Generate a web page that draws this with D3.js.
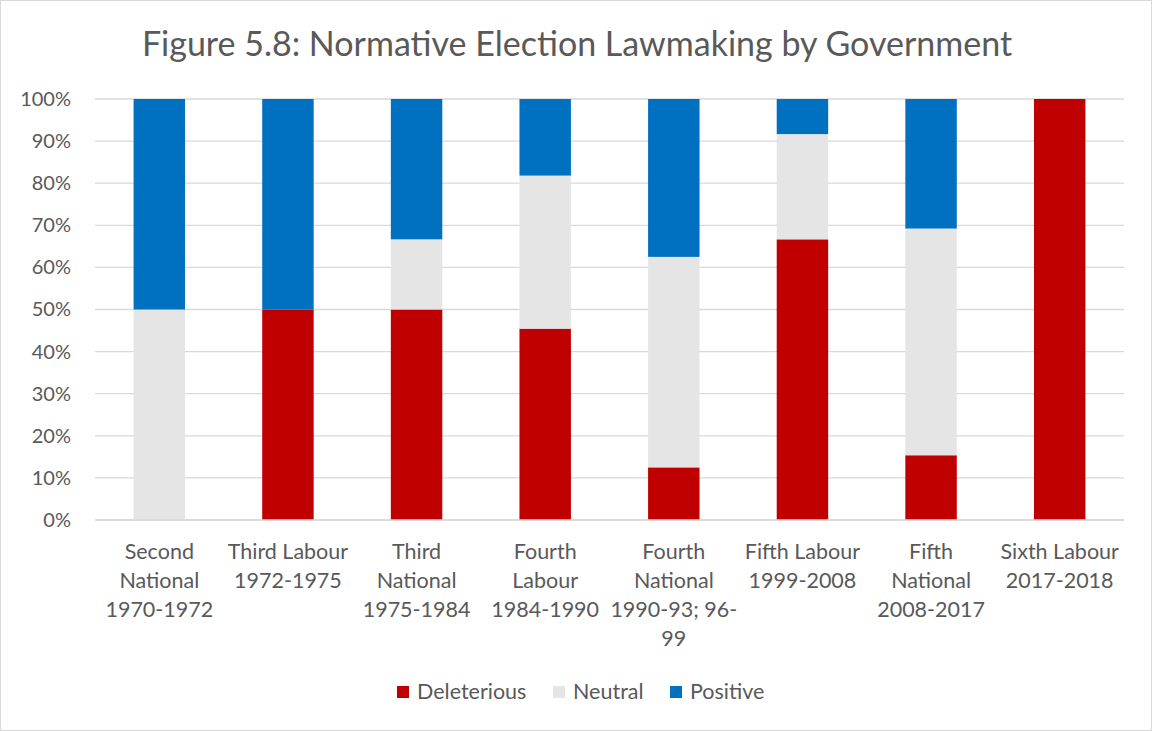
<!DOCTYPE html>
<html>
<head>
<meta charset="utf-8">
<script src="https://cdn.jsdelivr.net/npm/d3@7"></script>
<style>
  html, body { margin: 0; padding: 0; background: #fff; }
  svg { display: block; font-family: Lato, "Open Sans", sans-serif; }
</style>
</head>
<body>
<svg id="chart" width="1152" height="731"></svg>
<script>
// Governments, each label split into its wrapped lines
const categories = [
  ["Second", "National", "1970-1972"],
  ["Third Labour", "1972-1975"],
  ["Third", "National", "1975-1984"],
  ["Fourth", "Labour", "1984-1990"],
  ["Fourth", "National", "1990-93; 96-", "99"],
  ["Fifth Labour", "1999-2008"],
  ["Fifth", "National", "2008-2017"],
  ["Sixth Labour", "2017-2018"]
];
// Share of election lawmaking in each category (%)
const deleterious = [0, 50, 50, 45.45, 12.5, 66.67, 15.38, 100];
const neutral     = [50, 0, 16.67, 36.36, 50, 25, 53.85, 0];
const positive    = [50, 50, 33.33, 18.18, 37.5, 8.33, 30.77, 0];
const seriesNames = ["Deleterious", "Neutral", "Positive"];
const seriesColors = ["#c00000", "#e5e5e5", "#0070c0"];
const yTicks = [0, 10, 20, 30, 40, 50, 60, 70, 80, 90, 100];
const title = "Figure 5.8: Normative Election Lawmaking by Government";

const svg = d3.select("#chart");
const W = 1152, H = 731;
const margin = { left: 95, right: 28, top: 99, bottom: 211 };

// chart frame
svg.append("rect")
  .attr("x", 0.5).attr("y", 0.5).attr("width", W - 1).attr("height", H - 1)
  .attr("fill", "#fff").attr("stroke", "#d9d9d9");

svg.append("text")
  .attr("x", 577).attr("y", 56)
  .attr("text-anchor", "middle")
  .attr("font-size", 34)
  .attr("fill", "#595959")
  .text(title);

const rows = categories.map((c, i) => ({
  key: i,
  Deleterious: deleterious[i],
  Neutral: neutral[i],
  Positive: positive[i]
}));

const x = d3.scaleBand()
  .domain(d3.range(categories.length))
  .range([margin.left, W - margin.right])
  .paddingInner(0.6).paddingOuter(0.3);

const y = d3.scaleLinear().domain([0, 100]).range([H - margin.bottom, margin.top]);

// gridlines
svg.append("g")
  .selectAll("line")
  .data(yTicks)
  .join("line")
  .attr("x1", margin.left).attr("x2", W - margin.right)
  .attr("y1", d => y(d)).attr("y2", d => y(d))
  .attr("stroke", "#d9d9d9").attr("stroke-width", 1.3);

// y axis labels
const yAxis = d3.axisLeft(y).tickValues(yTicks).tickFormat(d => d + "%").tickSize(0).tickPadding(24);
const ya = svg.append("g").attr("transform", `translate(${margin.left},0)`).call(yAxis);
ya.select(".domain").remove();
ya.selectAll("text").attr("font-size", 20).attr("fill", "#595959").attr("font-family", "Lato, sans-serif");

// stacked bars
const stack = d3.stack().keys(seriesNames);
const layers = stack(rows);
svg.append("g")
  .selectAll("g")
  .data(layers)
  .join("g")
  .attr("fill", (d, i) => seriesColors[i])
  .selectAll("rect")
  .data(d => d)
  .join("rect")
  .attr("x", d => x(d.data.key))
  .attr("width", x.bandwidth())
  .attr("y", d => y(d[1]))
  .attr("height", d => y(d[0]) - y(d[1]));

// baseline
svg.append("line")
  .attr("x1", margin.left).attr("x2", W - margin.right)
  .attr("y1", y(0)).attr("y2", y(0))
  .attr("stroke", "#d9d9d9").attr("stroke-width", 1.3);

// category labels
const xl = svg.append("g");
categories.forEach((lines, i) => {
  const t = xl.append("text")
    .attr("x", x(i) + x.bandwidth() / 2)
    .attr("y", 559)
    .attr("text-anchor", "middle")
    .attr("font-size", 21.5)
    .attr("fill", "#595959");
  lines.forEach((ln, j) => {
    t.append("tspan").attr("x", x(i) + x.bandwidth() / 2).attr("y", 559 + j * 29).text(ln);
  });
});

// legend
const legendX = [397, 553, 670];
const lg = svg.append("g");
seriesNames.forEach((name, i) => {
  lg.append("rect")
    .attr("x", legendX[i]).attr("y", 686)
    .attr("width", 12).attr("height", 12)
    .attr("fill", seriesColors[i]);
  lg.append("text")
    .attr("x", legendX[i] + 20).attr("y", 699)
    .attr("font-size", 21.5)
    .attr("fill", "#595959")
    .text(name);
});
</script>
</body>
</html>
